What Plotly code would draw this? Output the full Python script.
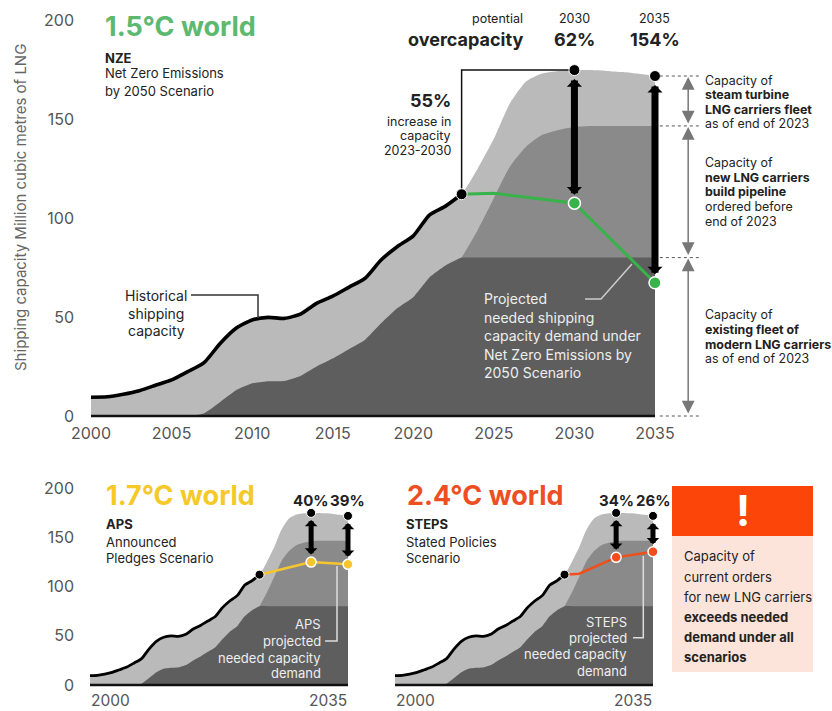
import plotly.graph_objects as go

W, H = 832, 711

# ---------------- data ----------------
years = list(range(2000, 2036))
hist_years = list(range(2000, 2024))
historical_capacity = [9.5, 9.7, 11.0, 12.8, 15.5, 18.2, 22.4, 26.8, 36.5, 44.3,
                       48.5, 49.8, 49.3, 51.5, 56.9, 60.5, 65.0, 69.5, 78.8, 85.5,
                       91.0, 101.5, 106.0, 112.0]
proj_years = list(range(2023, 2036))
total_capacity_proj = [112.0, 125.0, 140.0, 158.0, 169.0, 173.0, 174.3, 174.7,
                       174.7, 174.3, 173.7, 172.8, 171.7]
pipeline_capacity_top = [80.0, 94.0, 110.0, 126.0, 136.0, 142.0, 144.5, 146.0,
                         146.5, 146.5, 146.5, 146.5, 146.5]
modern_fleet = [0, 0, 0, 0, 0, 0, 0, 1.3, 7.0, 13.0, 16.5, 17.5, 17.7, 20.2, 25.0,
                29.0, 33.7, 38.4, 46.8, 54.4, 60.0, 70.0, 76.0, 80.0,
                80, 80, 80, 80, 80, 80, 80, 80, 80, 80, 80, 80]

scen_years = [2023, 2025, 2030, 2035]
nze_demand = [112.0, 112.5, 107.5, 67.3]
aps_demand = [112.0, 115.5, 124.8, 122.5]
steps_demand = [112.0, 113.0, 129.6, 135.3]
arrow_years = [2030, 2035]
nze_over = ["62%", "154%"]
aps_over = ["40%", "39%"]
steps_over = ["34%", "26%"]

main_xticks = [2000, 2005, 2010, 2015, 2020, 2025, 2030, 2035]
yticks = [0, 50, 100, 150, 200]
small_xticks = [2000, 2035]

# total capacity for every year
total_capacity = historical_capacity[:-1] + total_capacity_proj

LIGHT, MID, DARK = "#bababa", "#8a8a8a", "#5e5e5e"
FONT = "Inter"
TXT = "#222222"
TICK = "#555555"

def cap_at(yr):
    return total_capacity[years.index(yr)]

def dem_at(dem, yr):
    return dem[scen_years.index(yr)]

# ---------------- geometry (pixel calibration) ----------------
def xrange_for(px0, px1, x0px, sx):
    return [2000 + (px0 - x0px) / sx, 2000 + (px1 - x0px) / sx]

def yrange_for(top, bottom, y0px, sy):
    return [(y0px - bottom) / sy, (y0px - top) / sy]

def dom_x(a, b):
    return [a / W, b / W]

def dom_y(top, bottom):
    return [(H - bottom) / H, (H - top) / H]

fig = go.Figure()
annotations = []
shapes = []

def text(x, y, s, size=13, color=TXT, anchor="left", xref="paper", yanchor="middle"):
    annotations.append(dict(
        xref=xref, yref="paper", x=(x / W if xref == "paper" else x), y=1 - y / H,
        text=s, showarrow=False, xanchor=anchor, yanchor=yanchor, borderpad=0,
        font=dict(family=FONT, size=size, color=color)))

def add_panel(xa, ya, demand, color, hist_w, dem_w, dot, arr_w, arr_s, st_top, st_bot,
              with_bracket=False):
    fig.add_trace(go.Scatter(x=years, y=total_capacity, fill="tozeroy", fillcolor=LIGHT,
                             mode="lines", line=dict(width=0, shape="spline", smoothing=0.6),
                             xaxis=xa, yaxis=ya, hoverinfo="skip"))
    fig.add_trace(go.Scatter(x=proj_years, y=pipeline_capacity_top, fill="tozeroy", fillcolor=MID,
                             mode="lines", line=dict(width=0, shape="spline", smoothing=0.6),
                             xaxis=xa, yaxis=ya, hoverinfo="skip"))
    fig.add_trace(go.Scatter(x=years, y=modern_fleet, fill="tozeroy", fillcolor=DARK,
                             mode="lines", line=dict(width=0, shape="spline", smoothing=0.4),
                             xaxis=xa, yaxis=ya, hoverinfo="skip"))
    fig.add_trace(go.Scatter(x=[years[0], years[-1]], y=[0, 0], mode="lines",
                             line=dict(color="#111111", width=2.5), xaxis=xa, yaxis=ya,
                             hoverinfo="skip"))
    if with_bracket:
        # 55 % increase bracket: from 2023 dot up to the 2030 capacity level
        fig.add_trace(go.Scatter(x=[hist_years[-1], hist_years[-1], 2030],
                                 y=[historical_capacity[-1], cap_at(2030), cap_at(2030)],
                                 mode="lines", line=dict(color="#111111", width=1.5),
                                 xaxis=xa, yaxis=ya, hoverinfo="skip"))
    fig.add_trace(go.Scatter(x=hist_years, y=historical_capacity, mode="lines",
                             line=dict(color="#000000", width=hist_w, shape="spline", smoothing=0.6),
                             xaxis=xa, yaxis=ya, hoverinfo="skip"))
    fig.add_trace(go.Scatter(x=scen_years, y=demand, mode="lines",
                             line=dict(color=color, width=dem_w),
                             xaxis=xa, yaxis=ya, hoverinfo="skip"))
    fig.add_trace(go.Scatter(x=[hist_years[-1]] + arrow_years,
                             y=[historical_capacity[-1]] + [cap_at(y) for y in arrow_years],
                             mode="markers", marker=dict(color="#000000", size=dot,
                                                         line=dict(color="white", width=1)),
                             xaxis=xa, yaxis=ya, hoverinfo="skip", cliponaxis=False))
    fig.add_trace(go.Scatter(x=arrow_years, y=[dem_at(demand, y) for y in arrow_years],
                             mode="markers", marker=dict(color=color, size=dot + 1,
                                                         line=dict(color="white", width=1.5)),
                             xaxis=xa, yaxis=ya, hoverinfo="skip", cliponaxis=False))
    for yr in arrow_years:
        annotations.append(dict(
            x=yr, y=cap_at(yr), ax=yr, ay=dem_at(demand, yr),
            xref=xa, yref=ya, axref=xa, ayref=ya, text="", showarrow=True,
            arrowhead=1, startarrowhead=1, arrowside="end+start",
            arrowwidth=arr_w, arrowsize=arr_s, startarrowsize=arr_s,
            arrowcolor="#000000", standoff=st_top, startstandoff=st_bot))

# ---------------- main panel ----------------
MX0, MSX, MY0, MSY = 91, 16.114, 416, 1.98
add_panel("x", "y", nze_demand, "#37b34a", 3.6, 3, 11, 7, 0.36, 9, 7, with_bracket=True)

# right-hand brackets
levels = [cap_at(2035), pipeline_capacity_top[-1], modern_fleet[-1], 0]
for lv in levels:
    shapes.append(dict(type="line", xref="x", yref="y", x0=2035.3, x1=2037.75, y0=lv, y1=lv,
                       line=dict(color="#555555", width=1, dash="dot")))
for top, bot in zip(levels[:-1], levels[1:]):
    annotations.append(dict(
        x=2037.06, y=top, ax=2037.06, ay=bot, xref="x", yref="y", axref="x", ayref="y",
        text="", showarrow=True, arrowhead=2, startarrowhead=2, arrowside="end+start",
        arrowwidth=1.5, arrowsize=1.7, startarrowsize=1.7, arrowcolor="#777777",
        standoff=1, startstandoff=1))

# ---------------- bottom panels ----------------
add_panel("x2", "y2", aps_demand, "#f7c62f", 2.8, 2.5, 9, 5, 0.42, 7, 6)
add_panel("x3", "y3", steps_demand, "#f04e1a", 2.8, 2.5, 9, 5, 0.42, 7, 6)

BX0_L, BX0_M, BSX, BY0, BSY = 90, 395, 7.371, 685, 0.985

axis_common = dict(showgrid=False, zeroline=False, showline=False, ticks="",
                   fixedrange=True, automargin=False,
                   tickfont=dict(family=FONT, size=16, color=TICK))

fig.update_layout(
    width=W, height=H, margin=dict(l=0, r=0, t=0, b=0, pad=0, autoexpand=False),
    paper_bgcolor="white", plot_bgcolor="rgba(0,0,0,0)", showlegend=False,
    xaxis=dict(domain=dom_x(75, 760), range=xrange_for(75, 760, MX0, MSX),
               tickvals=main_xticks, ticktext=[str(v) for v in main_xticks],
               anchor="y", **axis_common),
    yaxis=dict(domain=dom_y(10, 422), range=yrange_for(10, 422, MY0, MSY),
               tickvals=yticks, anchor="x", **axis_common),
    xaxis2=dict(domain=dom_x(75, 372), range=xrange_for(75, 372, BX0_L, BSX),
                showticklabels=False, anchor="y2", **axis_common),
    yaxis2=dict(domain=dom_y(478, 689), range=yrange_for(478, 689, BY0, BSY),
                tickvals=yticks, anchor="x2", **axis_common),
    xaxis3=dict(domain=dom_x(385, 668), range=xrange_for(385, 668, BX0_M, BSX),
                showticklabels=False, anchor="y3", **axis_common),
    yaxis3=dict(domain=dom_y(478, 689), range=yrange_for(478, 689, BY0, BSY),
                showticklabels=False, anchor="x3", **axis_common),
)

# ---------------- texts: main ----------------
annotations.append(dict(xref="paper", yref="paper", x=20 / W, y=1 - 208 / H,
                        text="Shipping capacity Million cubic metres of LNG", textangle=-90,
                        showarrow=False, xanchor="center", yanchor="middle",
                        font=dict(family=FONT, size=15, color="#666666")))
text(104, 26, "<b>1.5°C world</b>", 27, "#5cb96f")
text(104, 58, "<b>NZE</b>", 13)
text(104, 73.5, "Net Zero Emissions", 13)
text(104, 90.5, "by 2050 Scenario", 13)

text(524, 18, "potential", 12.5, anchor="right")
text(524, 39.5, "<b>overcapacity</b>", 18, anchor="right")
for yr, lab in zip(arrow_years, nze_over):
    text(yr, 18, str(yr), 12.5, anchor="center", xref="x")
    text(yr, 39.5, "<b>" + lab + "</b>", 18, anchor="center", xref="x")

text(452, 100, "<b>55%</b>", 18, anchor="right")
for yy, s in zip([121.7, 136, 150.5], ["increase in", "capacity", "2023-2030"]):
    text(452, yy, s, 12.5, anchor="right")

for yy, s in zip([295, 313, 331], ["Historical", "shipping", "capacity"]):
    text(156, yy, s, 14, anchor="center")

for yy, s in zip([298.5, 317, 335.7, 354.3, 372.7],
                 ["Projected", "needed shipping", "capacity demand under",
                  "Net Zero Emissions by", "2050 Scenario"]):
    text(483, yy, s, 14, color="#eeeeee")

right_blocks = [
    ([80, 95, 109.5, 123.5],
     ["Capacity of", "<b>steam turbine</b>", "<b>LNG carriers fleet</b>", "as of end of 2023"]),
    ([162.3, 177, 191.7, 206.5, 221.3],
     ["Capacity of", "<b>new LNG carriers</b>", "<b>build pipeline</b>", "ordered before", "end of 2023"]),
    ([315, 329.5, 344, 358.5],
     ["Capacity of", "<b>existing fleet of</b>", "<b>modern LNG carriers</b>", "as of end of 2023"]),
]
for ys, ss in right_blocks:
    for yy, s in zip(ys, ss):
        text(704, yy, s, 12.4)

# leader lines (paper pixels)
def ppath(pts):
    return "M " + " L ".join(f"{x / W},{1 - y / H}" for x, y in pts)

shapes.append(dict(type="path", xref="paper", yref="paper",
                   path=ppath([(191, 295), (258, 295), (258, 318)]),
                   line=dict(color="#333333", width=1.5)))
shapes.append(dict(type="path", xref="paper", yref="paper",
                   path=ppath([(585, 299), (601, 299), (632, 264)]),
                   line=dict(color="#cccccc", width=1.5)))

# ---------------- texts: bottom ----------------
text(105, 495, "<b>1.7°C world</b>", 27, "#f5c927")
text(105, 524.3, "<b>APS</b>", 13)
text(105, 541.7, "Announced", 13)
text(105, 557.7, "Pledges Scenario", 13)
for yr, lab in zip(arrow_years, aps_over):
    text(yr, 500, "<b>" + lab + "</b>", 15, anchor="center", xref="x2")
for yy, s in zip([624, 641, 657.7, 672.7], ["APS", "projected", "needed capacity", "demand"]):
    text(321.7, yy, s, 13, color="#eeeeee", anchor="right")
shapes.append(dict(type="path", xref="paper", yref="paper",
                   path=ppath([(325, 641), (337, 641), (337, 566)]),
                   line=dict(color="#dddddd", width=1.5)))

text(406, 495, "<b>2.4°C world</b>", 27, "#ee4f22")
text(405, 524.3, "<b>STEPS</b>", 13)
text(405, 541.7, "Stated Policies", 13)
text(405, 557.7, "Scenario", 13)
for yr, lab in zip(arrow_years, steps_over):
    text(yr, 500, "<b>" + lab + "</b>", 15, anchor="center", xref="x3")
for yy, s in zip([621.7, 637.7, 654.3, 671], ["STEPS", "projected", "needed capacity", "demand"]):
    text(628.3, yy, s, 13, color="#eeeeee", anchor="right")
shapes.append(dict(type="path", xref="paper", yref="paper",
                   path=ppath([(633, 637.7), (643.3, 637.7), (643.3, 556)]),
                   line=dict(color="#dddddd", width=1.5)))

for xr in ["x2", "x3"]:
    text(small_xticks[0], 711, str(small_xticks[0]), 15.5, TICK, anchor="left", xref=xr,
         yanchor="bottom")
    text(small_xticks[1], 711, str(small_xticks[1]), 15.5, TICK, anchor="right", xref=xr,
         yanchor="bottom")

# ---------------- warning box ----------------
shapes.append(dict(type="rect", xref="paper", yref="paper",
                   x0=672 / W, x1=813 / W, y0=1 - 536 / H, y1=1 - 486 / H,
                   fillcolor="#fc4508", line=dict(width=0)))
shapes.append(dict(type="rect", xref="paper", yref="paper",
                   x0=672 / W, x1=813 / W, y0=1 - 672 / H, y1=1 - 536 / H,
                   fillcolor="#fde4da", line=dict(width=0)))
text(743, 511, "<b>!</b>", 42, "white", anchor="center")
for yy, s in zip([556, 576.5, 596.7, 617, 637, 657.3],
                 ["Capacity of", "current orders", "for new LNG carriers",
                  "<b>exceeds needed</b>", "<b>demand under all</b>", "<b>scenarios</b>"]):
    text(683, yy, s, 13)

fig.update_layout(annotations=annotations, shapes=shapes)
fig.write_html("out.html")
